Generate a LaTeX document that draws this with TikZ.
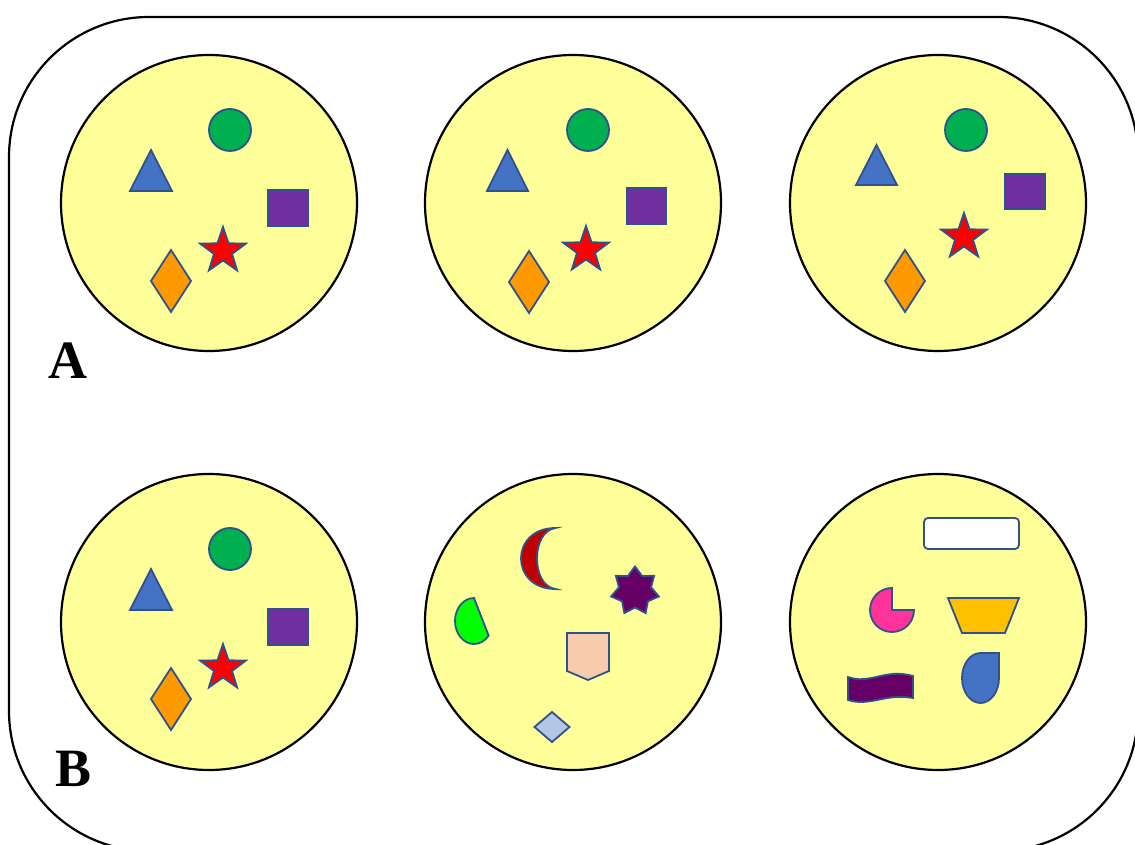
\documentclass[tikz,border=0pt]{standalone}
\usepackage{fontspec}
\setmainfont{Liberation Serif}
\definecolor{yel}{HTML}{FFFF99}
\definecolor{edge}{HTML}{2F528F}
\definecolor{tri}{HTML}{4472C4}
\definecolor{grn}{HTML}{00B050}
\definecolor{sqr}{HTML}{7030A0}
\definecolor{strred}{HTML}{FF0000}
\definecolor{dia}{HTML}{FF9900}
\definecolor{moon}{HTML}{C00000}
\definecolor{plum}{HTML}{660066}
\definecolor{lime}{HTML}{00FF00}
\definecolor{peach}{HTML}{F8CBAD}
\definecolor{pale}{HTML}{B4C7E7}
\definecolor{pink}{HTML}{FF3399}
\definecolor{gold}{HTML}{FFC000}
\tikzset{
  disc/.style={circle, draw=black, line width=2.2pt, fill=yel, minimum size=296pt, inner sep=0pt},
  shp/.style={draw=edge, line width=1.8pt, line join=miter},
  lbl/.style={font=\fontsize{54}{54}\selectfont\bfseries, inner sep=0pt, anchor=base}
}
\newcommand{\fivestar}[2]{\draw[shp, fill=strred, shift={(#1,#2)}] (90:24) -- (126:9.5) -- (162:24) -- (198:9.5) -- (234:24) -- (270:9.5) -- (306:24) -- (342:9.5) -- (18:24) -- (54:9.5) -- cycle;}
\newcommand{\kite}[2]{\draw[shp, fill=dia, shift={(#1,#2)}] (-20,0) -- (0,-31) -- (20,0) -- (0,31) -- cycle;}
\begin{document}
\begin{tikzpicture}[x=1pt,y=1pt]
\useasboundingbox (0,0) rectangle (1135,844);
\begin{scope}
\clip (0,0) rectangle (1135,844);
\draw[line width=2.2pt, rounded corners=140pt] (9,-7) rectangle (1138,827);
\end{scope}
% circles
\node[disc] (a1) at (209,641) {};
\node[disc] (a2) at (573,641) {};
\node[disc] (a3) at (938,641) {};
\node[disc] (b1) at (209,222) {};
\node[disc] (b2) at (573,222) {};
\node[disc] (b3) at (938,222) {};
% A1
\draw[shp, fill=grn] (230,714) circle[radius=21];
\draw[shp, fill=tri] (130,653) -- (172,653) -- (151,694) -- cycle;
\draw[shp, fill=sqr] (268,654) rectangle (308,618);
\fivestar{223}{593}
\kite{171}{563}
% A2
\draw[shp, fill=grn] (588,714) circle[radius=21];
\draw[shp, fill=tri] (487,653) -- (528,653) -- (507.5,694) -- cycle;
\draw[shp, fill=sqr] (627,656) rectangle (666,620);
\fivestar{586}{594}
\kite{529}{562}
% A3
\draw[shp, fill=grn] (966,714) circle[radius=21];
\draw[shp, fill=tri] (856,659) -- (897,659) -- (876.5,699) -- cycle;
\draw[shp, fill=sqr] (1005,670) rectangle (1045,635);
\fivestar{964}{607}
\kite{905}{563}
% B1
\draw[shp, fill=grn] (230,295) circle[radius=21];
\draw[shp, fill=tri] (130,234) -- (172,234) -- (151,275) -- cycle;
\draw[shp, fill=sqr] (268,235) rectangle (308,199);
\fivestar{223}{176}
\kite{171}{145}
% B2
\draw[shp, fill=moon] (555.5,316) .. controls (509.5,316) and (509.5,255) .. (555.5,255)
  .. controls (530.8,258) and (530.8,313) .. (555.5,316) -- cycle;
\draw[shp, fill=plum, shift={(635,253)}]
  (90:24.5) -- (115.7:16.5) -- (141.4:24.5) -- (167.1:16.5) -- (192.9:24.5) -- (218.6:16.5)
  -- (244.3:24.5) -- (270:16.5) -- (295.7:24.5) -- (321.4:16.5) -- (347.1:24.5) -- (12.9:16.5)
  -- (38.6:24.5) -- (64.3:16.5) -- cycle;
\draw[shp, fill=lime] (474,246) arc[start angle=90, end angle=320.4, x radius=19, y radius=23] -- cycle;
\draw[shp, fill=peach] (567,211) -- (609,211) -- (609,173) -- (588,164) -- (567,173) -- cycle;
\draw[shp, fill=pale] (534.5,117) -- (552,102) -- (569.5,117) -- (552,132) -- cycle;
% B3
\draw[shp, fill=white, rounded corners=4pt] (924,326) rectangle (1019,295);
\draw[shp, fill=pink] (892,234) -- (892,256) arc[start angle=90, end angle=360, radius=22] -- cycle;
\draw[shp, fill=gold] (948,246) -- (1019,246) -- (1005,211) -- (962,211) -- cycle;
\draw[shp, fill=plum] (848,167) .. controls (870,159) and (885,176) .. (913,168) -- (913,146)
  .. controls (885,151) and (870,137) .. (848,144) -- cycle;
\draw[shp, fill=tri] (980.5,191) -- (999,191) -- (999,166) arc[start angle=0, end angle=-270, x radius=18.5, y radius=25] -- cycle;
% labels
\node[lbl] (la) at (68,465) {A};
\node[lbl] (lb) at (73.5,58) {B};
\end{tikzpicture}
\end{document}
